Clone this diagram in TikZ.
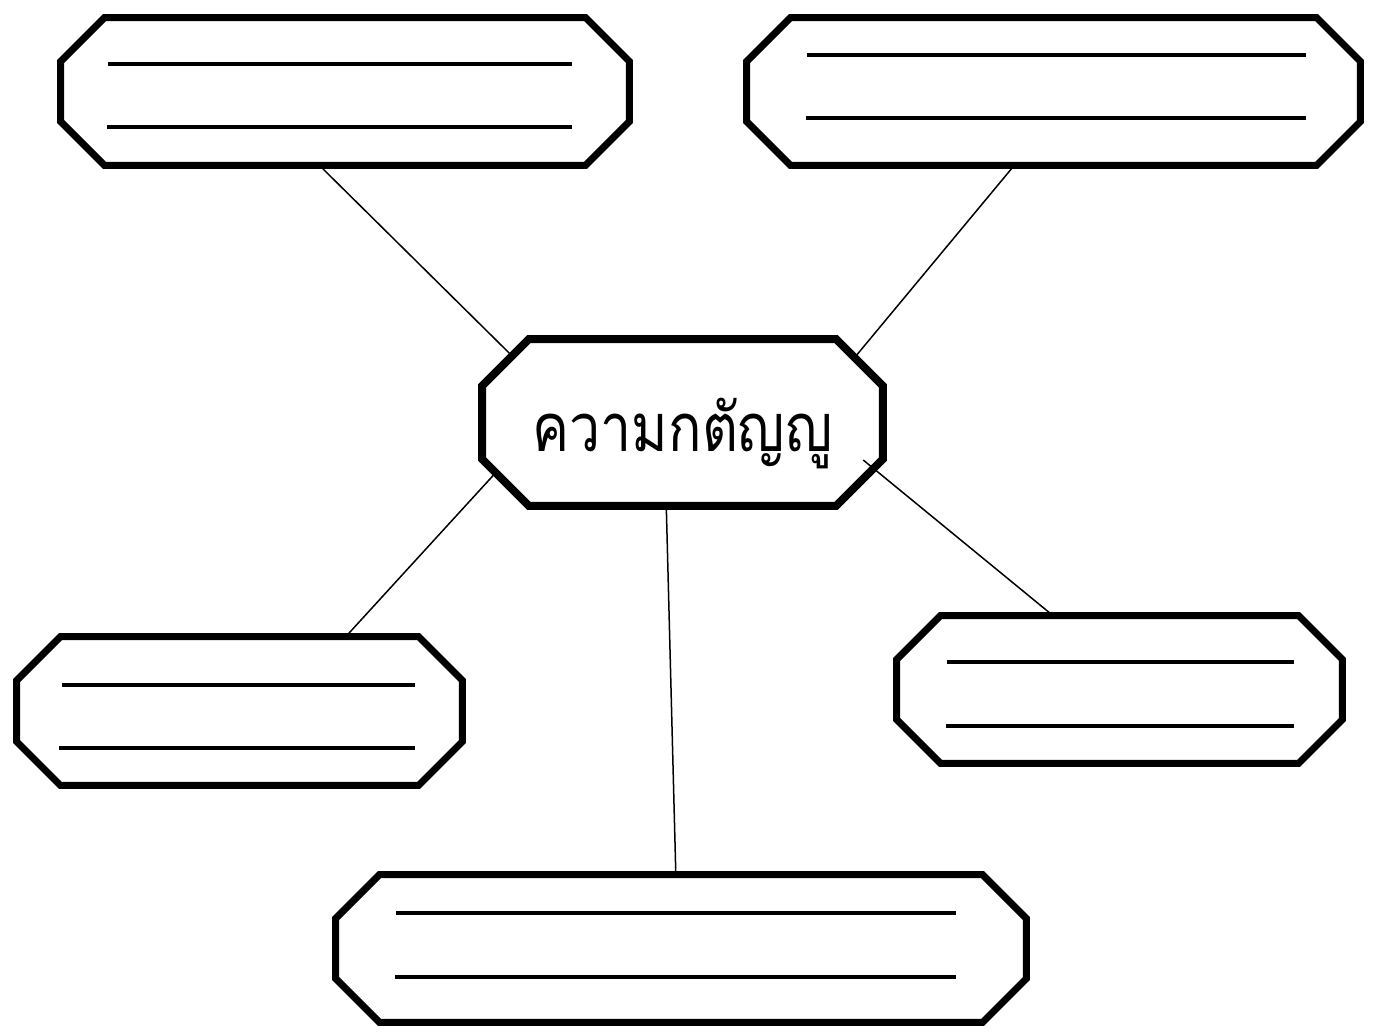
\documentclass[tikz,border=0pt]{standalone}
\usepackage{fontspec}
\newfontfamily\thaifont[Script=Thai, FakeStretch=0.83]{Loma}

\pgfdeclarelayer{wires}
\pgfdeclarelayer{boxes}
\pgfsetlayers{wires,boxes,main}

\tikzset{
    bubble/.style={rectangle, inner sep=0pt, outer sep=0pt},
    writeline/.style={line width=0.08cm},
    link/.style={line width=0.03cm}
}

% chamfered frame round a named node: name, chamfer, line width
\newcommand{\octbox}[3]{%
    \draw[line width=#3, line join=miter, fill=white]
        ([xshift=#2]#1.north west) -- ([xshift=-#2]#1.north east)
        -- ([yshift=-#2]#1.north east) -- ([yshift=#2]#1.south east)
        -- ([xshift=-#2]#1.south east) -- ([xshift=#2]#1.south west)
        -- ([yshift=#2]#1.south west) -- ([yshift=-#2]#1.north west) -- cycle;}

\begin{document}
\begin{tikzpicture}[x=0.02cm, y=-0.02cm]
        \useasboundingbox (0,0) rectangle (1375,1033);

        \node[
            bubble,
            minimum width=8.02cm,
            minimum height=3.34cm,
            text height=1.5cm,
            text depth=0.32cm
        ](hub) at (682.5,422.5){\thaifont\fontsize{38}{44}\selectfont ความกตัญญู};

        \node[
            bubble,
            minimum width=11.38cm,
            minimum height=2.96cm
        ](tl) at (345,91.5){};

        \node[
            bubble,
            minimum width=12.28cm,
            minimum height=2.96cm
        ](tr) at (1053.5,91.5){};

        \node[
            bubble,
            minimum width=8.92cm,
            minimum height=2.98cm
        ](lb) at (239.5,711){};

        \node[
            bubble,
            minimum width=8.92cm,
            minimum height=2.96cm
        ](rb) at (1119.5,689.5){};

        \node[
            bubble,
            minimum width=13.82cm,
            minimum height=2.96cm
        ](bot) at (681,948.5){};

        \begin{pgfonlayer}{boxes}
            \octbox{hub}{0.94cm}{0.16cm}
            \octbox{tl}{0.88cm}{0.14cm}
            \octbox{tr}{0.88cm}{0.14cm}
            \octbox{lb}{0.88cm}{0.14cm}
            \octbox{rb}{0.88cm}{0.14cm}
            \octbox{bot}{0.88cm}{0.14cm}
        \end{pgfonlayer}

        \begin{pgfonlayer}{wires}
            \draw [link, shorten <=-1.2cm, shorten >=-0.4cm](hub.156) -- (tl.251);
            \draw [link, shorten <=-1.2cm, shorten >=-0.4cm](hub.24) -- (tr.242);
            \draw [link, shorten <=-1.2cm, shorten >=-0.4cm](hub.198) -- (lb.35);
            \draw [link, shorten <=-0.4cm, shorten >=-0.4cm](hub.259) -- (bot.94);
        \end{pgfonlayer}
        \draw [link, shorten <=-0.51cm](hub.345) -- (rb.132);

        % blank lines to write on
        \draw [writeline](108,64) -- (572,64);
        \draw [writeline](107,127) -- (572,127);

        \draw [writeline](807,55) -- (1306,55);
        \draw [writeline](806,118) -- (1306,118);

        \draw [writeline](62,685) -- (415,685);
        \draw [writeline](59,748) -- (415,748);

        \draw [writeline](947,662) -- (1294,662);
        \draw [writeline](946,726) -- (1294,726);

        \draw [writeline](396,913) -- (956,913);
        \draw [writeline](395,977) -- (956,977);
    \end{tikzpicture}
\end{document}
